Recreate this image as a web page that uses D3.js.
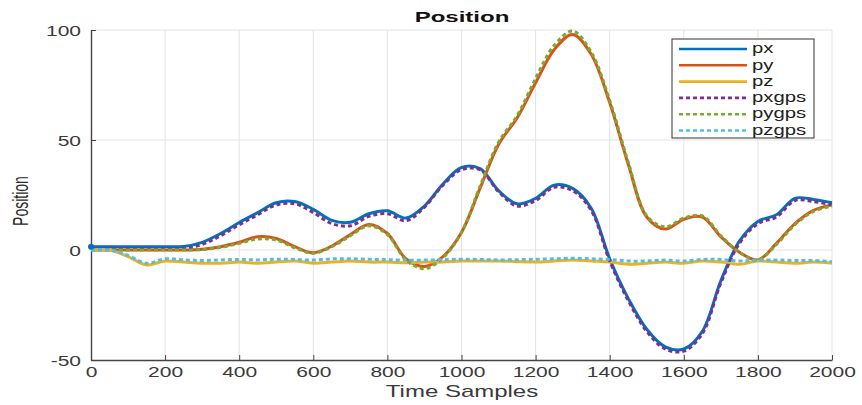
<!DOCTYPE html>
<html>
<head>
<meta charset="utf-8">
<script src="https://cdn.jsdelivr.net/npm/d3@7"></script>
<style>
  body { margin: 0; background: #fff; }
  text { font-family: "Liberation Sans", Arial, sans-serif; }
</style>
</head>
<body>
<div id="chart"></div>
<script>
// sample index, every 50 samples
const samples = d3.range(0, 2001, 50);

const px = [1.5, 1.5, 1.5, 1.5, 1.5, 1.6, 3.5, 7.5, 12.5, 17, 21.5, 22, 18.5, 13.5, 12.6, 16.5, 17.8, 14.5, 20, 30,
  37.5, 37, 27, 21, 23.5, 29.5, 28, 19, -4, -22, -36, -44, -45, -37, -14, 4, 13, 16, 23.5, 23, 21.5];
const py = [0, 0, 0, 0, 0, 0, 0.3, 1.5, 3.5, 6, 5.2, 1.5, -1.3, 1.8, 7, 11.6, 7.5, -4, -7.5, -3, 8, 28, 48, 60, 76, 91,
  98, 89, 67, 39, 15, 9.5, 14, 15, 6, -1, -4.5, 3, 12, 18, 20.5];
const pz = [0, 0, -3, -6.8, -5, -5.5, -6, -6, -5.5, -6, -5.5, -5, -6, -5.5, -5, -5.5, -5.5, -5.8, -5.5, -5.5, -5, -5,
  -5, -5.3, -5.5, -5, -4.5, -5, -5.5, -6.5, -6, -5.5, -6, -5, -5.5, -6.5, -5, -5.5, -6, -5.5, -6];
const pxgps = [0.4, 0.4, 0.4, 0.4, 0.4, 0.6, 2.5, 6.5, 11.5, 16, 20.5, 21, 17, 12, 11, 15.3, 16.5, 13.3, 19.5, 29.5,
  36.5, 36.5, 26.5, 20, 22.5, 28.5, 27, 18, -5, -23, -37, -45, -46, -38, -15, 3, 12, 15, 22.5, 22, 20.5];
const pygps = [0, 0, 0, 0, 0, 0, 0.2, 1.2, 3, 5, 4.5, 1, -1.5, 1.5, 6.5, 11, 7, -4.5, -8.5, -3.5, 8, 29, 49, 61, 78, 93,
  99.5, 90, 68, 40, 15.5, 10.5, 14.5, 15.5, 6.5, -1, -4.5, 2.5, 11.5, 17.5, 20];
const pzgps = [0, 0, -2.5, -6, -4, -4.5, -4.8, -4.5, -4.3, -4.5, -4.2, -4.3, -4.6, -4, -4, -4.2, -4.4, -4.6, -4.6, -4.4,
  -4.2, -4.3, -4.5, -4.4, -4.2, -4, -3.8, -4, -4.3, -5, -5, -4.6, -5, -4.3, -4.3, -5, -4.6, -4.5, -4.8, -4.8, -5.3];

const seriesNames = ["px", "py", "pz", "pxgps", "pygps", "pzgps"];
const seriesData = [px, py, pz, pxgps, pygps, pzgps];
const colors = ["#0072BD", "#D95319", "#EDB120", "#7E2F8E", "#77AC30", "#4DBEEE"];
const dashed = [false, false, false, true, true, true];

const xTicks = d3.range(0, 2001, 200);
const yTicks = [-50, 0, 50, 100];

const width = 862, height = 405;
const margin = { left: 91, right: 30, top: 30, bottom: 45 };
const stretch = 1.5; // text in the picture is drawn wide

const svg = d3.select("#chart").append("svg")
  .attr("width", width)
  .attr("height", height);

const x = d3.scaleLinear().domain([0, 2000]).range([margin.left, width - margin.right]);
const y = d3.scaleLinear().domain([-50, 100]).range([height - margin.bottom, margin.top]);

// grid
svg.append("g").selectAll("line")
  .data(xTicks.filter(d => d > 0))
  .enter().append("line")
  .attr("x1", d => x(d)).attr("x2", d => x(d))
  .attr("y1", y(-50)).attr("y2", y(100))
  .attr("stroke", "#e3e3e3").attr("stroke-width", 1);

svg.append("g").selectAll("line")
  .data(yTicks.filter(d => d > -50))
  .enter().append("line")
  .attr("x1", x(0)).attr("x2", x(2000))
  .attr("y1", d => y(d)).attr("y2", d => y(d))
  .attr("stroke", "#e3e3e3").attr("stroke-width", 1);

// axes
const xAxis = svg.append("g")
  .attr("transform", `translate(0,${y(-50)})`)
  .call(d3.axisBottom(x).tickValues(xTicks).tickFormat(d => String(d))
    .tickSizeInner(-5).tickSizeOuter(0).tickPadding(5));
const yAxis = svg.append("g")
  .attr("transform", `translate(${x(0)},0)`)
  .call(d3.axisLeft(y).tickValues(yTicks).tickFormat(d => String(d))
    .tickSizeInner(-5).tickSizeOuter(0).tickPadding(10));

[xAxis, yAxis].forEach(a => {
  a.select(".domain").attr("stroke", "#444").attr("stroke-width", 1.4);
  a.selectAll(".tick line").attr("stroke", "#444");
  a.selectAll(".tick text")
    .attr("fill", "#3a3a3a")
    .style("font-size", "14px")
    .style("font-family", "'Liberation Sans', Arial, sans-serif")
    .attr("transform", `scale(${stretch},1)`);
});
xAxis.selectAll(".tick text").attr("x", 0).attr("dy", "0.85em");
yAxis.selectAll(".tick text").attr("x", -10 / stretch).attr("dy", "0.36em");

// lines
const line = d3.line()
  .x((d, i) => x(samples[i]))
  .y(d => y(d))
  .curve(d3.curveCatmullRom.alpha(0.5));

const plot = svg.append("g");
seriesData.forEach((s, k) => {
  plot.append("path")
    .datum(s)
    .attr("d", line)
    .attr("fill", "none")
    .attr("stroke", colors[k])
    .attr("stroke-width", 3)
    .attr("stroke-dasharray", dashed[k] ? "4,3" : null);
});

// start marker
svg.append("circle")
  .attr("cx", x(samples[0])).attr("cy", y(px[0]))
  .attr("r", 3).attr("fill", colors[0]);

// title and labels
svg.append("text")
  .attr("transform", `translate(462,22) scale(1.6,1)`)
  .attr("text-anchor", "middle")
  .attr("fill", "#111")
  .style("font-size", "15px").style("font-weight", "bold")
  .text("Position");

svg.append("text")
  .attr("transform", `translate(462,397) scale(${stretch},1)`)
  .attr("text-anchor", "middle")
  .attr("fill", "#3a3a3a")
  .style("font-size", "16px")
  .text("Time Samples");

svg.append("text")
  .attr("transform", "translate(28,201) scale(1.6,1) rotate(-90)")
  .attr("text-anchor", "middle")
  .attr("fill", "#2a2a2a")
  .style("font-family", "'Liberation Sans Narrow', 'Liberation Sans', Arial, sans-serif")
  .style("font-size", "14px")
  .text("Position");

// legend
const legend = svg.append("g").attr("transform", "translate(672,39)");
legend.append("rect")
  .attr("width", 142).attr("height", 99)
  .attr("fill", "#fff").attr("stroke", "#333").attr("stroke-width", 1);

const items = legend.selectAll("g")
  .data(seriesNames)
  .enter().append("g")
  .attr("transform", (d, i) => `translate(0,${10 + i * 16.3})`);

items.append("line")
  .attr("x1", 7).attr("x2", 75)
  .attr("stroke", (d, i) => colors[i])
  .attr("stroke-width", 2.6)
  .attr("stroke-dasharray", (d, i) => dashed[i] ? "4,3" : null);

items.append("text")
  .attr("transform", `translate(80,0) scale(1.45,1)`)
  .attr("dy", "0.3em")
  .attr("fill", "#222")
  .style("font-size", "14px")
  .text(d => d);
</script>
</body>
</html>
